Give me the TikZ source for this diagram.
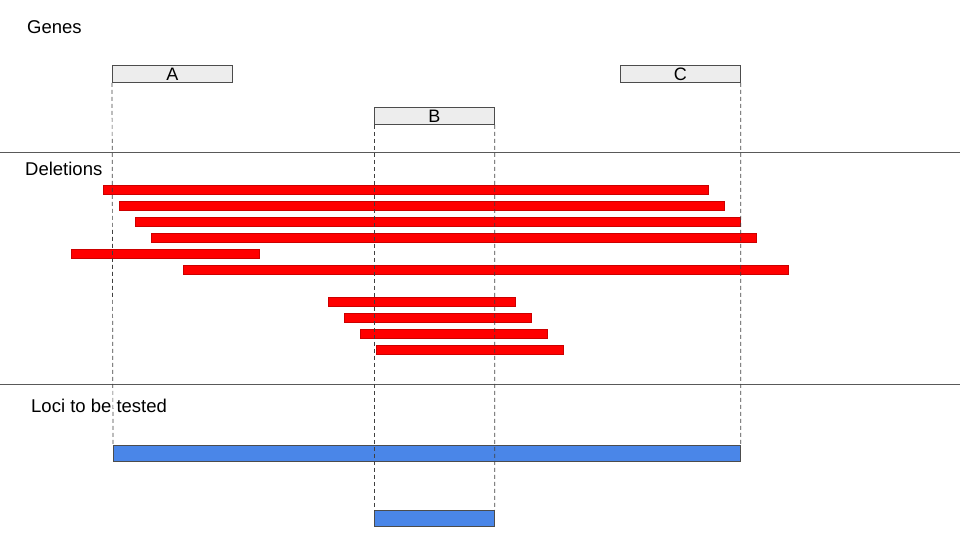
\documentclass[tikz,border=0pt]{standalone}
\usepackage{fontspec}
\setmainfont{Liberation Sans}
\begin{document}
\begin{tikzpicture}[x=1pt,y=-1pt,
  gene/.style={draw=black!70,fill=black!7,line width=0.8pt,inner sep=0pt,anchor=north west,font=\fontsize{18}{21}\selectfont},
  del/.style={draw=red!80!black,fill=red,line width=0.6pt,inner sep=0pt,anchor=north west,minimum height=9pt},
  locus/.style={draw=black!70,fill={rgb,255:red,74;green,134;blue,232},line width=0.7pt,inner sep=0pt,anchor=north west,minimum height=16pt},
  label/.style={anchor=west,inner sep=0pt,font=\fontsize{18.5}{22}\selectfont},
  sep/.style={draw=black!65,line width=0.8pt},
  guide/.style={draw=black!75,line width=0.7pt,dash pattern=on 4pt off 3pt}]
\useasboundingbox (0,0) rectangle (960,540);
% section labels
\node[label] (genes) at (27,27) {Genes};
\node[label] (dels) at (25,169) {Deletions};
\node[label] (loci) at (31,406) {Loci to be tested};
% separators
\coordinate (s1l) at (0,152); \coordinate (s1r) at (960,152);
\coordinate (s2l) at (0,384); \coordinate (s2r) at (960,384);
\draw[sep] (s1l) -- (s1r);
\draw[sep] (s2l) -- (s2r);
% genes
\node[gene,minimum width=120pt,minimum height=17pt] (A) at (112,65) {A};
\node[gene,minimum width=120pt,minimum height=17pt] (C) at (620,65) {C};
\node[gene,minimum width=120pt,minimum height=17pt] (B) at (374,107) {B};
% deletions
\node[del,minimum width=605pt] (d1) at (103,185) {};
\node[del,minimum width=605pt] (d2) at (119,201) {};
\node[del,minimum width=605pt] (d3) at (135,217) {};
\node[del,minimum width=605pt] (d4) at (151,233) {};
\node[del,minimum width=188pt] (d5) at (71,249) {};
\node[del,minimum width=605pt] (d6) at (183,265) {};
\node[del,minimum width=187pt] (d7) at (328,297) {};
\node[del,minimum width=187pt] (d8) at (344,313) {};
\node[del,minimum width=187pt] (d9) at (360,329) {};
\node[del,minimum width=187pt] (d10) at (376,345) {};
% loci
\node[locus,minimum width=627pt] (L1) at (113,445) {};
\node[locus,minimum width=120pt] (L2) at (374,510) {};
% guides
\draw[guide] (A.south west) -- (L1.north west);
\draw[guide] (C.south east) -- (L1.north east);
\draw[guide] (B.south west) -- (L2.north west);
\draw[guide] (B.south east) -- (L2.north east);
\end{tikzpicture}
\end{document}
